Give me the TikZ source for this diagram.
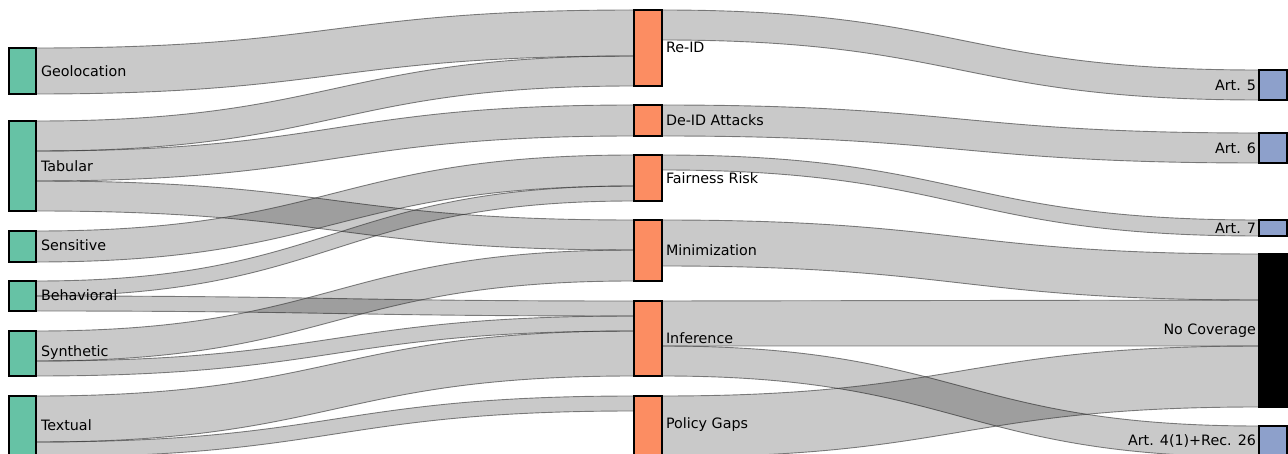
\documentclass[tikz,border=0pt]{standalone}
\usepackage{fontspec}
\setmainfont{DejaVu Sans}
\usetikzlibrary{calc}
\pgfdeclarelayer{flows}
\pgfsetlayers{flows,main}
\definecolor{srcc}{RGB}{102,194,165}
\definecolor{midc}{RGB}{252,141,98}
\definecolor{dstc}{RGB}{141,160,203}
\tikzset{
  sbox/.style={draw=black, line width=1.4pt, inner sep=0pt, outer sep=0pt, minimum width=27pt},
  lnode/.style={sbox, fill=srcc},
  mnode/.style={sbox, fill=midc, minimum width=28pt},
  rnode/.style={sbox, fill=dstc, minimum width=28pt},
  knode/.style={sbox, fill=black, minimum width=28pt},
  flow/.style={fill=black, fill opacity=0.21, draw=black!80, draw opacity=0.6, line width=0.9pt},
  lab/.style={inner sep=0pt, outer sep=0pt, font=\fontsize{14.3}{17}\selectfont, text=black},
}
% link: source, src top, src bottom, target, tgt top, tgt bottom (pixel rows)
\newcommand\sklink[6]{%
  \path[flow] let \p1=(#1.east), \p2=(#4.west), \p3=($(\p1)!0.5!(\p2)$) in
    (\x1,-#2pt) .. controls (\x3,-#2pt) and (\x3,-#5pt) .. (\x2,-#5pt)
    -- (\x2,-#6pt) .. controls (\x3,-#6pt) and (\x3,-#3pt) .. (\x1,-#3pt) -- cycle;}
\begin{document}
\begin{tikzpicture}[x=1pt,y=1pt]
\useasboundingbox (0,0) rectangle (1288,-454);
\clip (0,0) rectangle (1288,-454);
% left nodes
\node[lnode, minimum height=46pt] (geo) at (22.5,-71) {};
\node[lnode, minimum height=90pt] (tab) at (22.5,-166) {};
\node[lnode, minimum height=31pt] (sen) at (22.5,-246.5) {};
\node[lnode, minimum height=30pt] (beh) at (22.5,-296) {};
\node[lnode, minimum height=45pt] (syn) at (22.5,-353.5) {};
\node[lnode, minimum height=61pt] (txt) at (22.5,-426.5) {};
% middle nodes
\node[mnode, minimum height=76pt] (reid) at (648,-48) {};
\node[mnode, minimum height=31pt] (deid) at (648,-120.5) {};
\node[mnode, minimum height=46pt] (fair) at (648,-178) {};
\node[mnode, minimum height=61pt] (mini) at (648,-250.5) {};
\node[mnode, minimum height=75pt] (infe) at (648,-338.5) {};
\node[mnode, minimum height=61pt] (poli) at (648,-426.5) {};
% right nodes
\node[rnode, minimum height=30pt] (art5) at (1273,-85) {};
\node[rnode, minimum height=30pt] (art6) at (1273,-148) {};
\node[rnode, minimum height=16pt] (art7) at (1273,-228) {};
\node[knode, minimum height=153pt] (noco) at (1273,-330.5) {};
\node[rnode, minimum height=31pt] (art4) at (1273,-441.5) {};
% links (behind nodes)
\begin{pgfonlayer}{flows}
\sklink{geo}{48}{94}{reid}{10}{56}
\sklink{tab}{121}{151}{reid}{56}{86}
\sklink{tab}{151}{181}{deid}{105}{136}
\sklink{tab}{181}{211}{mini}{220}{250}
\sklink{sen}{231}{262}{fair}{155}{186}
\sklink{beh}{281}{296}{fair}{186}{201}
\sklink{beh}{296}{311}{infe}{301}{316}
\sklink{syn}{331}{361}{mini}{250}{281}
\sklink{syn}{361}{376}{infe}{316}{331}
\sklink{txt}{396}{442}{infe}{331}{376}
\sklink{txt}{442}{457}{poli}{396}{411}
\sklink{reid}{10}{40}{art5}{70}{100}
\sklink{deid}{105}{136}{art6}{133}{163}
\sklink{fair}{155}{170}{art7}{220}{236}
\sklink{mini}{220}{266}{noco}{254}{300}
\sklink{infe}{301}{346}{noco}{300}{346}
\sklink{infe}{346}{376}{art4}{426}{457}
\sklink{poli}{396}{457}{noco}{346}{407}
\end{pgfonlayer}
% labels
\node[lab, anchor=west] (geoL) at (41,-71) {Geolocation};
\node[lab, anchor=west] (tabL) at (41,-166) {Tabular};
\node[lab, anchor=west] (senL) at (41,-245) {Sensitive};
\node[lab, anchor=west] (behL) at (41,-295) {Behavioral};
\node[lab, anchor=west] (synL) at (41,-353) {Synthetic};
\node[lab, anchor=west] (txtL) at (41,-425) {Textual};
\node[lab, anchor=west] (reidL) at (666,-47) {Re-ID};
\node[lab, anchor=west] (deidL) at (666,-120) {De-ID Attacks};
\node[lab, anchor=west] (fairL) at (666,-178) {Fairness Risk};
\node[lab, anchor=west] (miniL) at (666,-250) {Minimization};
\node[lab, anchor=west] (infeL) at (666,-338) {Inference};
\node[lab, anchor=west] (poliL) at (666,-425) {Policy Gaps};
\node[lab, anchor=east] (art5L) at (1256,-85) {Art. 5};
\node[lab, anchor=east] (art6L) at (1256,-148) {Art. 6};
\node[lab, anchor=east] (art7L) at (1256,-228) {Art. 7};
\node[lab, anchor=east] (nocoL) at (1256,-331) {No Coverage};
\node[lab, anchor=east] (art4L) at (1256,-441) {Art. 4(1)+Rec. 26};
\end{tikzpicture}
\end{document}
